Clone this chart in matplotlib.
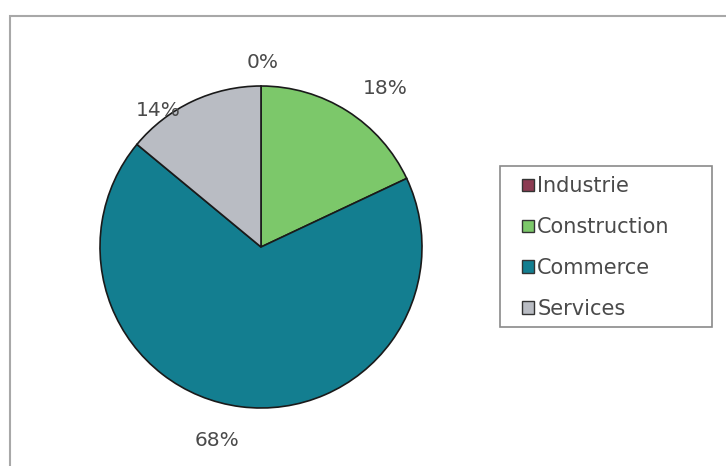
import numpy as np
import matplotlib.pyplot as plt
from matplotlib.patches import Rectangle

# Sector shares (%)
sectors = ['Industrie', 'Construction', 'Commerce', 'Services']
shares = [0, 18, 68, 14]
colors = ['#8c3b52', '#7cc86a', '#137e90', '#b9bcc3']

W, H = 726, 466
fig = plt.figure(figsize=(W / 100, H / 100), dpi=100)
fig.patch.set_facecolor('white')

# outer chart frame
fig.add_artist(Rectangle((10 / W, -0.01), 1.0, 1 - 16 / H + 0.01, transform=fig.transFigure,
                         fill=False, edgecolor='#a8a8a8', linewidth=1.5))

cx, cy, r = 261, 247, 161
ax = fig.add_axes([(cx - r) / W, 1 - (cy + r) / H, 2 * r / W, 2 * r / H])

wedges, texts, autotexts = ax.pie(
    shares, colors=colors, startangle=90, counterclock=False,
    autopct=lambda p: f'{p:.0f}%', pctdistance=1.15,
    wedgeprops=dict(edgecolor='#1a1a1a', linewidth=1.2),
    textprops=dict(color='#4a4a4a', fontsize=14.5, family='DejaVu Sans'))
ax.set_xlim(-1, 1)
ax.set_ylim(-1, 1)
ax.set_aspect('equal')

# nudge labels the way the original software placed them
# order: Industrie, Construction, Commerce, Services
offsets = [(0.01, -0.005), (0.155, 0.015), (-0.13, -0.06), (-0.15, -0.195)]
for t, (dx, dy) in zip(autotexts, offsets):
    x, y = t.get_position()
    t.set_position((x + dx, y + dy))
    t.set_clip_on(False)

# legend box drawn separately so it can be as wide as the original
fig.add_artist(Rectangle((500 / W, 1 - 327 / H), 212 / W, 161 / H, transform=fig.transFigure,
                         fill=False, edgecolor='#8a8a8a', linewidth=1.2))
handles = [Rectangle((0, 0), 1, 1, facecolor=c, edgecolor='#333333', linewidth=1.0)
           for c in colors]
leg = fig.legend(handles, sectors, loc='upper left',
                 bbox_to_anchor=(514 / W, 1 - 168 / H), bbox_transform=fig.transFigure,
                 frameon=False, prop=dict(family='DejaVu Sans', size=15),
                 labelcolor='#4a4a4a',
                 handlelength=0.55, handleheight=0.55, handletextpad=0.17,
                 labelspacing=1.0, borderpad=0.4, borderaxespad=0)

fig.savefig('out.png', dpi=100)
